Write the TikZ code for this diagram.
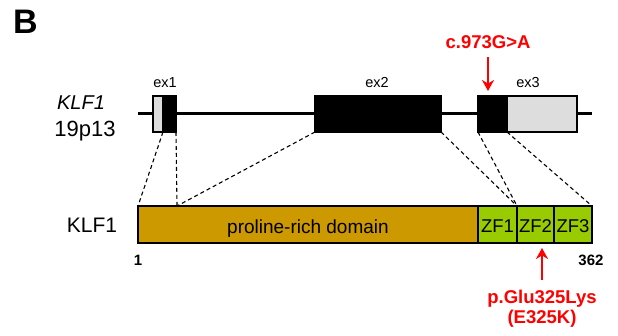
\documentclass[tikz,border=0pt]{standalone}
\usepackage{fontspec}
\setmainfont{Liberation Sans}
\usetikzlibrary{arrows.meta, positioning}
\definecolor{prdcol}{HTML}{CC9900}
\definecolor{zfcol}{HTML}{99CC00}
\definecolor{utrcol}{HTML}{DDDDDD}

\begin{document}
\begin{tikzpicture}[
            x=1pt, y=-1pt,
            exon/.style={rectangle, draw, line width=1.2pt, fill=black, minimum height=36pt, inner sep=0pt, outer sep=0pt},
            utr/.style={exon, fill=utrcol},
            dom/.style={rectangle, draw, line width=1.2pt, minimum height=37pt, inner sep=0pt, outer sep=0pt},
            domlabel/.style={anchor=base, inner sep=0pt, font=\fontsize{18.5}{20}\selectfont},
            exlabel/.style={anchor=base, inner sep=0pt, font=\fontsize{14.5}{16}\selectfont},
            mut/.style={red, line width=2.5pt, -{Stealth[length=11pt, width=12pt]}},
            mutlabel/.style={red, inner sep=0pt, align=center, font=\bfseries\fontsize{18.5}{20}\selectfont},
            map/.style={line width=1.1pt, dash pattern=on 4pt off 3pt}
        ]
        \useasboundingbox (0,0) rectangle (618,336);
        \node[anchor=base west, inner sep=0pt, font=\bfseries\fontsize{34}{36}\selectfont] (panel) at (13,34) {B};

        % Gene
        \node[anchor=base, inner sep=0pt, font=\itshape\fontsize{20}{24}\selectfont] (gene) at (81,110) {KLF1};
        \node[anchor=base, inner sep=0pt, font=\fontsize{22}{24}\selectfont] (locus) at (85,137) {19p13};
        \coordinate (gstart) at (138,114);
        \coordinate (gend) at (592,114);
        \draw[line width=3pt] (gstart) -- (gend);
        \node[utr, minimum width=10pt] (ex1utr) at (158,114) {};
        \node[exon, minimum width=13pt, right=0pt of ex1utr] (ex1cds) {};
        \node[exon, minimum width=126pt] (ex2) at (378,114) {};
        \node[exon, minimum width=29pt] (ex3cds) at (492.5,114) {};
        \node[utr, minimum width=70pt, right=0pt of ex3cds] (ex3utr) {};
        \node[exlabel] (ex1lab) at (165,88) {ex1};
        \node[exlabel] (ex2lab) at (377,88) {ex2};
        \node[exlabel] (ex3lab) at (528,88) {ex3};

        % Protein
        \node[anchor=base, inner sep=0pt, font=\fontsize{21}{24}\selectfont] (prot) at (92,233) {KLF1};
        \node[dom, fill=prdcol, minimum width=340pt] (prd) at (308,224.5) {};
        \node[anchor=base, inner sep=0pt, font=\fontsize{19}{22}\selectfont] (prdlab) at (308,234) {proline-rich domain};
        \node[dom, fill=zfcol, minimum width=39pt, right=0pt of prd] (zf1) {};
        \node[dom, fill=zfcol, minimum width=37pt, right=0pt of zf1] (zf2) {};
        \node[dom, fill=zfcol, minimum width=38pt, right=0pt of zf2] (zf3) {};
        \node[domlabel] (zf1lab) at (zf1.center |- 0,233) {ZF1};
        \node[domlabel] (zf2lab) at (zf2.center |- 0,233) {ZF2};
        \node[domlabel] (zf3lab) at (zf3.center |- 0,233) {ZF3};
        \node[anchor=base, inner sep=0pt, font=\bfseries\fontsize{15}{18}\selectfont] (aa1) at (138,266) {1};
        \node[anchor=base, inner sep=0pt, font=\bfseries\fontsize{15}{18}\selectfont] (aa362) at (591,266) {362};

        % Exon to protein mapping
        \coordinate (aa40) at (177,206);
        \draw[map] (ex1utr.south east) -- (prd.north west);
        \draw[map] (ex1cds.south east) -- (aa40);
        \draw[map] (ex2.south west) -- (aa40);
        \draw[map] (ex2.south east) -- (zf2.north west);
        \draw[map] (ex3cds.south west) -- (zf2.north west);
        \draw[map] (ex3cds.south east) -- (zf3.north east);

        % Mutation
        \node[mutlabel, anchor=base] (cdna) at (488,49) {c.973G>A};
        \coordinate (cpos) at (488,91);
        \draw[mut, shorten <=8pt] (cdna.south) -- (cpos);
        \node[mutlabel, anchor=north] (pmut) at (542,290) {p.Glu325Lys\\(E325K)};
        \coordinate (ppos) at (542,248);
        \draw[mut, shorten <=10pt] (pmut.north) -- (ppos);

    \end{tikzpicture}
\end{document}
